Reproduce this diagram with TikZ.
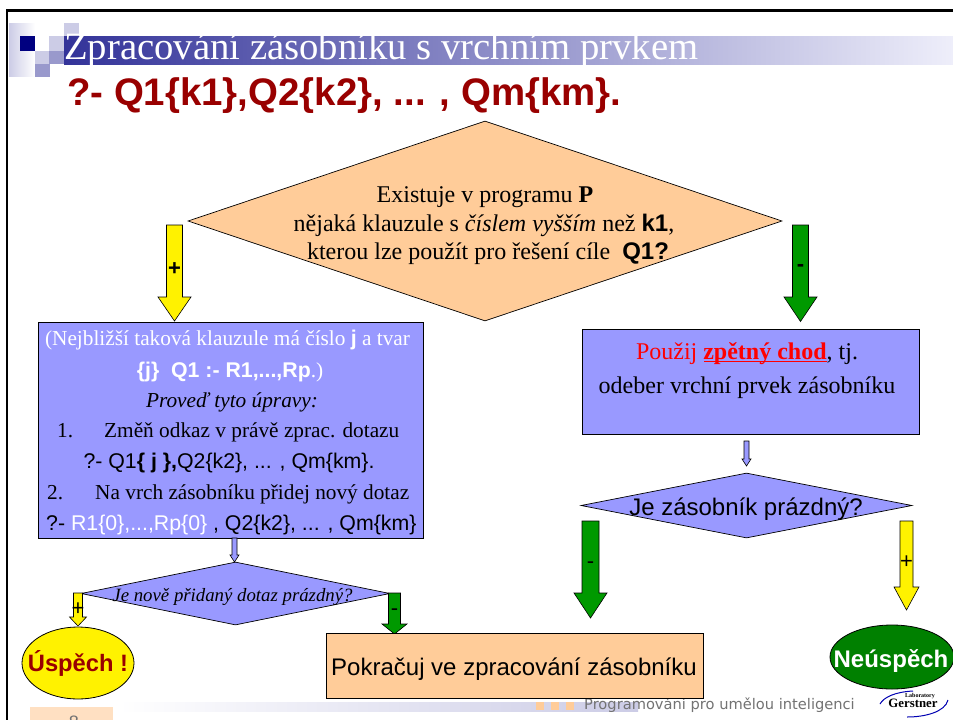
\documentclass[tikz,border=0pt]{standalone}
\usepackage{fontspec}
\setmainfont{Liberation Serif}
\setsansfont{Liberation Sans}
\newfontfamily\footfont{DejaVu Sans}
\usetikzlibrary{shapes.geometric,shadings}
\definecolor{navy}{RGB}{0,0,128}
\definecolor{bluefill}{RGB}{153,153,255}
\definecolor{orangefill}{RGB}{255,204,153}
\definecolor{redtitle}{RGB}{153,0,0}
\definecolor{greenfill}{RGB}{0,128,0}
\definecolor{greenarrow}{RGB}{0,153,0}
\definecolor{palesq}{RGB}{204,204,230}
\definecolor{midsq}{RGB}{153,153,204}
\definecolor{titlebar}{RGB}{51,51,153}
\definecolor{titleend}{RGB}{238,238,250}
\tikzset{
  decision/.style={diamond,draw=black,fill=#1,aspect=2,inner sep=0pt,line width=0.7pt},
  stepbox/.style={rectangle,draw=black,fill=#1,inner sep=0pt,anchor=north west,line width=0.9pt},
  outcome/.style={ellipse,draw=black,fill=#1,inner sep=0pt,line width=0.8pt},
  bigline/.style={inner sep=0pt,anchor=base,font=\fontsize{24}{28}\selectfont},
  leftline/.style={inner sep=0pt,anchor=base,font=\fontsize{21.3}{25}\selectfont},
  leftsans/.style={inner sep=0pt,anchor=base,font=\sffamily\fontsize{21.3}{25}\selectfont},
  sign/.style={inner sep=0pt,font=\sffamily\fontsize{22}{26}\selectfont},
}
% x, top, shaft end, tip, half shaft, half head, colour
\newcommand{\blockarrow}[7]{
  \filldraw[fill=#7,draw=black,line width=0.6pt,line join=miter]
    (#1-#5,#2) -- (#1+#5,#2) -- (#1+#5,#3) -- (#1+#6,#3) -- (#1,#4)
    -- (#1-#6,#3) -- (#1-#5,#3) -- cycle;
}
\begin{document}
\begin{tikzpicture}[x=1pt,y=-1pt]
  \useasboundingbox (0,0) rectangle (953,720);
  \fill[white] (0,0) rectangle (953,720);
  \draw[black,line width=2.5pt] (7,720) -- (7,10.5) -- (953,10.5);

  % title decoration
  \shade[left color=palesq,right color=white] (9,23) rectangle (35,76);
  \fill[navy] (20,36) rectangle (35,51);
  \fill[palesq] (64,23) rectangle (79,36);
  \fill[palesq] (49,36) rectangle (64,51);
  \fill[midsq] (49,51) rectangle (64,64);
  \fill[palesq] (35,51) rectangle (49,64);
  \fill[midsq] (35,64) rectangle (50,77);
  \shade[left color=titlebar,right color=titleend] (64,36) rectangle (953,64);
  \node[anchor=base west,inner sep=0pt,text=white,font=\fontsize{38.7}{44}\selectfont] (title) at (64,59) {Zpracování zásobníku s vrchním prvkem};
  \node[anchor=base west,inner sep=0pt,text=redtitle,font=\sffamily\bfseries\fontsize{38.4}{44}\selectfont] (query) at (67,105) {?- Q1\{k1\},Q2\{k2\}, ... , Qm\{km\}.};

  % top question
  \node[decision=orangefill,minimum width=594pt,minimum height=200pt] (ask) at (485,221) {};
  \node[bigline] (ask1) at (485,202) {Existuje v programu \textbf{P}};
  \node[bigline] (ask2) at (484,231) {nějaká klauzule s \textit{číslem vyšším} než {\sffamily\bfseries k1},};
  \node[bigline] (ask3) at (488,259) {kterou lze použít pro řešení cíle\ \ {\sffamily\bfseries Q1?}};
  \blockarrow{174.5}{225}{297}{321}{8}{16.5}{yellow}
  \node[sign,font=\sffamily\bfseries\fontsize{22}{26}\selectfont] (askyes) at (174.5,269) {+};
  \blockarrow{800.5}{225}{297}{321.5}{8}{16.5}{greenarrow}
  \node[sign,font=\sffamily\bfseries\fontsize{22}{26}\selectfont] (askno) at (800.5,268) {-};

  % left branch
  \node[stepbox=bluefill,minimum width=385pt,minimum height=216pt] (apply) at (38,322) {};
  \node[leftline,text=white] (a1) at (227.5,345) {(Nejbližší taková klauzule má číslo {\sffamily\bfseries j} a tvar};
  \node[leftline,text=white] (a2) at (230,377) {{\sffamily\bfseries \{j\}\ \ Q1 :- R1,...,Rp}.)};
  \node[leftline] (a3) at (232,407) {\textit{Proveď tyto úpravy:}};
  \node[leftline,anchor=base west] (a4a) at (57,437) {1.};
  \node[leftline,anchor=base west] (a4b) at (104,437) {Změň odkaz v právě zprac. dotazu};
  \node[leftsans] (a5) at (229,468) {?- Q1{\bfseries\{ j \},}Q2\{k2\}, ... , Qm\{km\}.};
  \node[leftline,anchor=base west] (a6a) at (47,499) {2.};
  \node[leftline,anchor=base west] (a6b) at (95,499) {Na vrch zásobníku přidej nový dotaz};
  \node[leftsans,anchor=base west] (a7) at (46,530) {?- \textcolor{white}{R1\{0\},...,Rp\{0\}} , Q2\{k2\}, ... , Qm\{km\}};

  \blockarrow{234.5}{538}{555}{562}{2.5}{4.5}{bluefill}
  \node[decision=bluefill,minimum width=309pt,minimum height=63pt] (added) at (235.5,593.5) {};
  \node[inner sep=0pt,anchor=base,font=\itshape\fontsize{18.8}{22}\selectfont] (addedq) at (232.5,601) {Je nově přidaný dotaz prázdný?};
  \blockarrow{78}{593}{617}{626}{4.5}{8.5}{yellow}
  \node[sign] (addedyes) at (78,609) {+};
  \blockarrow{394.5}{593}{624}{634}{6}{12.5}{greenarrow}
  \node[sign] (addedno) at (394.5,612) {-};
  \node[outcome=yellow,minimum width=112pt,minimum height=72pt] (success) at (78,663) {};
  \node[inner sep=0pt,anchor=base,text=redtitle,font=\sffamily\bfseries\fontsize{23.7}{27}\selectfont] (successt) at (78,671) {Úspěch !};

  % footer
  \shade[left color=white,right color=palesq] (118,702) rectangle (638,711);
  \foreach \i in {536,551,566}
    \fill[orangefill] (\i,702) rectangle (\i+8,710);
  \node[anchor=base west,inner sep=0pt,text=black!55,font=\footfont\fontsize{14.65}{16}\selectfont] (course) at (584,709) {Programování pro umělou inteligenci};
  \fill[orangefill!60] (30,707) rectangle (113,720);
  \begin{scope}
    \clip (0,0) rectangle (953,720);
    \node[inner sep=0pt,text=black!55,font=\sffamily\fontsize{18}{20}\selectfont] (pageno) at (74,722) {8};
  \end{scope}

  % continue box
  \node[stepbox=orangefill,minimum width=377pt,minimum height=65pt] (goon) at (326,633) {};
  \node[inner sep=0pt,anchor=base,font=\sffamily\fontsize{24}{28}\selectfont] (goont) at (514,675) {Pokračuj ve zpracování zásobníku};

  % right branch
  \node[stepbox=bluefill,minimum width=337pt,minimum height=105pt] (back) at (582,329) {};
  \node[bigline] (b1) at (747,359) {\textcolor{red}{Použij \textbf{zpětný chod}}, tj.};
  \draw[red,line width=1.8pt] (704,361.5) -- (827,361.5);
  \node[bigline] (b2) at (747,393) {odeber vrchní prvek zásobníku};
  \blockarrow{746.5}{441}{459}{466}{2.5}{4.5}{bluefill}
  \node[decision=bluefill,minimum width=331pt,minimum height=65pt] (empty) at (746.5,505.5) {};
  \node[inner sep=0pt,anchor=base,font=\sffamily\fontsize{24}{28}\selectfont] (emptyq) at (746,515) {Je zásobník prázdný?};
  \blockarrow{590.5}{521}{593}{618}{8.5}{16.5}{greenarrow}
  \node[sign] (emptyno) at (590.5,565) {-};
  \blockarrow{906.5}{521}{587}{610}{6.5}{12.5}{yellow}
  \node[sign] (emptyyes) at (906.5,562) {+};
  \node[outcome=greenfill,minimum width=124pt,minimum height=64pt] (fail) at (892,657) {};
  \node[inner sep=0pt,anchor=base,text=white,font=\sffamily\bfseries\fontsize{24}{27}\selectfont] (failt) at (891,667) {Neúspěch};

  % logo
  \node[inner sep=0pt,font=\bfseries\fontsize{12.8}{14}\selectfont] (logo) at (913,703) {Gerstner};
  \node[inner sep=0pt,font=\bfseries\fontsize{6}{7}\selectfont] (logotop) at (920,696) {Laboratory};
  \draw[blue!70!black,line width=1pt] (880,704) .. controls (884,697) and (895,692) .. (913,691);
  \draw[blue!70!black,line width=1pt] (907,717) .. controls (925,717) and (945,712) .. (948,700);
\end{tikzpicture}
\end{document}
